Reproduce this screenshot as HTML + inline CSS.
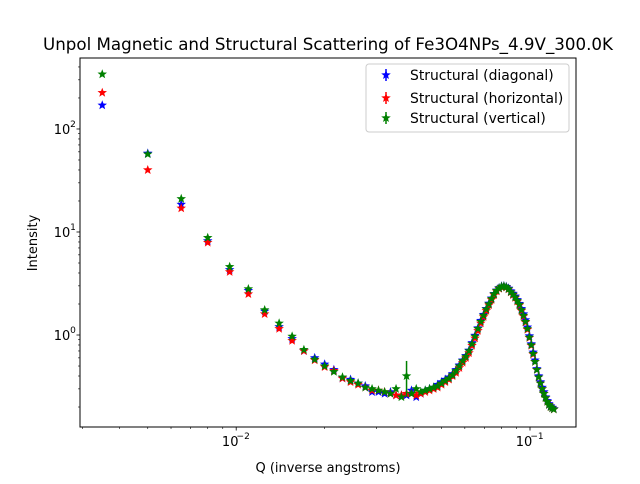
<!DOCTYPE html>
<html><head><meta charset="utf-8"><style>
body{margin:0;background:#fff;font-family:"DejaVu Sans","Liberation Sans",sans-serif;}
svg text{font-family:"DejaVu Sans","Liberation Sans",sans-serif;fill:#000;}
</style></head><body>
<svg id="chart" width="640" height="480" xmlns="http://www.w3.org/2000/svg">
<rect width="640" height="480" fill="#fff"/>
<text x="328" y="50" font-size="16.6" text-anchor="middle" textLength="570" lengthAdjust="spacingAndGlyphs">Unpol Magnetic and Structural Scattering of Fe3O4NPs_4.9V_300.0K</text>
<g id="plot"></g>
<g id="axes"></g>
<rect x="80" y="58" width="496" height="369" fill="none" stroke="#000" stroke-width="1"/>
<text x="328" y="472" font-size="13" text-anchor="middle">Q (inverse angstroms)</text>
<text transform="translate(37,243) rotate(-90)" font-size="13" text-anchor="middle">Intensity</text>
<g>
<rect x="366" y="64" width="203" height="68" rx="3" fill="#fff" fill-opacity="0.8" stroke="#ccc"/>
<g id="leg"></g>
<text x="410" y="80" font-size="13.9">Structural (diagonal)</text>
<text x="410" y="103" font-size="13.9">Structural (horizontal)</text>
<text x="410" y="123" font-size="13.9">Structural (vertical)</text>
</g>
</svg>
<script>
const qValues=[0.0035,0.005,0.0065,0.008,0.0095,0.011,0.0125,0.014,0.0155,0.017,0.0185,0.02,0.0215,0.023,0.0245,0.026,0.0275,0.029,0.0305,0.032,0.0335,0.035,0.0365,0.038,0.0395,0.041,0.0425,0.044,0.0455,0.047,0.0485,0.05,0.0515,0.053,0.0545,0.056,0.0575,0.059,0.0605,0.062,0.0635,0.065,0.0665,0.068,0.0695,0.071,0.0725,0.074,0.0755,0.077,0.0785,0.08,0.0815,0.083,0.0845,0.086,0.0875,0.089,0.0905,0.092,0.0935,0.095,0.0965,0.098,0.0995,0.101,0.1025,0.104,0.1055,0.107,0.1085,0.11,0.1115,0.113,0.1145,0.116,0.1175,0.119,0.1205];
const greenValues=[340,57,21,8.8,4.6,2.8,1.75,1.3,0.97,0.72,0.58,0.5,0.44,0.39,0.36,0.34,0.31,0.3,0.29,0.28,0.27,0.3,0.25,0.4,0.27,0.3,0.28,0.29,0.3,0.31,0.32,0.34,0.36,0.38,0.41,0.45,0.5,0.56,0.62,0.7,0.82,0.97,1.15,1.35,1.55,1.78,2.0,2.25,2.5,2.7,2.85,2.95,2.97,2.92,2.8,2.62,2.48,2.33,2.15,1.98,1.75,1.55,1.35,1.15,0.95,0.8,0.66,0.55,0.46,0.39,0.34,0.3,0.27,0.245,0.225,0.21,0.2,0.195,0.19];
const redValues=[225,40,17,7.9,4.1,2.5,1.6,1.15,0.88,0.7,0.57,0.49,0.45,0.38,0.35,0.33,0.31,0.29,0.29,0.28,0.27,0.26,0.26,0.27,0.27,0.26,0.27,0.28,0.29,0.3,0.31,0.33,0.35,0.37,0.4,0.43,0.48,0.54,0.6,0.67,0.79,0.93,1.1,1.3,1.5,1.72,1.95,2.2,2.45,2.66,2.82,2.92,2.95,2.9,2.78,2.6,2.45,2.3,2.12,1.95,1.72,1.52,1.33,1.13,0.94,0.79,0.65,0.55,0.46,0.39,0.34,0.3,0.27,0.245,0.225,0.21,0.2,0.195,0.19];
const blueValues=[170,58,18.5,8.2,4.3,2.7,1.7,1.2,0.92,0.7,0.6,0.52,0.46,0.38,0.37,0.34,0.32,0.28,0.28,0.27,0.28,0.26,0.26,0.26,0.29,0.25,0.27,0.29,0.3,0.31,0.33,0.35,0.37,0.39,0.42,0.46,0.51,0.57,0.63,0.71,0.84,0.99,1.17,1.38,1.58,1.8,2.03,2.28,2.52,2.72,2.87,2.97,2.99,2.95,2.84,2.67,2.53,2.38,2.2,2.02,1.8,1.6,1.4,1.19,0.98,0.82,0.68,0.57,0.47,0.4,0.35,0.31,0.28,0.25,0.23,0.215,0.205,0.198,0.192];
const greenErrLow=[0.25];const greenErrHigh=[0.56];const greenErrIndex=[23];
const xTickLabels=["10","10"];const xTickExps=["−2","−1"];const xTickVals=[0.01,0.1];
const yTickVals=[1,10,100];const yTickExps=["0","1","2"];

const X0=80,X1=576,Y0=58,Y1=427;
const xMinL=Math.log10(0.00294),xMaxL=Math.log10(0.1434);
const yMinL=-0.893,yMaxL=2.689;
function xs(v){return X0+(Math.log10(v)-xMinL)/(xMaxL-xMinL)*(X1-X0);}
function ys(v){return Y1-(Math.log10(v)-yMinL)/(yMaxL-yMinL)*(Y1-Y0);}
const NS="http://www.w3.org/2000/svg";
function mk(t,a,p){const e=document.createElementNS(NS,t);for(const k in a)e.setAttribute(k,a[k]);p.appendChild(e);return e;}
function starPts(cx,cy,r){let p=[];for(let i=0;i<10;i++){const rr=i%2?r*0.42:r;const a=-Math.PI/2+i*Math.PI/5;p.push((cx+rr*Math.cos(a)).toFixed(2)+","+(cy+rr*Math.sin(a)).toFixed(2));}return p.join(" ");}
const plot=document.getElementById('plot'),axes=document.getElementById('axes');
function series(vals,color,name){
  const g=mk('g',{},plot);
  
  
  vals.forEach((v,i)=>{
    const s=mk('polygon',{points:starPts(xs(qValues[i]),ys(v),5),fill:color},g);
    
    
  });
}
series(blueValues,'#0000ff','diagonal');
series(redValues,'#ff0000','horizontal');
greenErrIndex.forEach((idx,k)=>{
  const l=mk('line',{x1:xs(qValues[idx]),x2:xs(qValues[idx]),y1:ys(greenErrLow[k]),y2:ys(greenErrHigh[k]),stroke:'#008000','stroke-width':1.5},plot);
  
  
});
series(greenValues,'#008000','vertical');
for(let d=-3;d<=-1;d++){for(let m=1;m<=9;m++){const v=m*Math.pow(10,d);const x=xs(v);if(x<X0||x>X1)continue;
  const t=mk('line',{x1:x,x2:x,y1:Y1,y2:Y1+(m===1?3.5:2),stroke:'#000','stroke-width':m===1?0.8:0.6},axes);
  
  }}
xTickVals.forEach((v,i)=>{const t=mk('text',{x:xs(v)-6,y:Y1+19,'font-size':13,'text-anchor':'middle'},axes);t.textContent=xTickLabels[i];
  
  
  const e=mk('text',{x:xs(v)+7,y:Y1+12,'font-size':9,'text-anchor':'middle'},axes);e.textContent=xTickExps[i];
  
  });
for(let d=-1;d<=2;d++){for(let m=1;m<=9;m++){const v=m*Math.pow(10,d);const y=ys(v);if(y<Y0||y>Y1)continue;
  const t=mk('line',{x1:X0,x2:X0-(m===1?3.5:2),y1:y,y2:y,stroke:'#000','stroke-width':m===1?0.8:0.6},axes);
  
  }}
yTickVals.forEach((v,i)=>{const t=mk('text',{x:X0-18,y:ys(v)+5,'font-size':13,'text-anchor':'middle'},axes);t.textContent="10";
  
  
  const e=mk('text',{x:X0-7,y:ys(v)-2,'font-size':9,'text-anchor':'middle'},axes);e.textContent=yTickExps[i];
  
  });
const leg=document.getElementById('leg');
[['#0000ff',75],['#ff0000',98],['#008000',118]].forEach(([c,y])=>{
  const l=mk('line',{x1:386,x2:386,y1:y-6,y2:y+6,stroke:c,'stroke-width':1.5},leg);
  
  
  const s=mk('polygon',{points:starPts(386,y,5),fill:c},leg);
  
  
});
</script>
</body></html>
